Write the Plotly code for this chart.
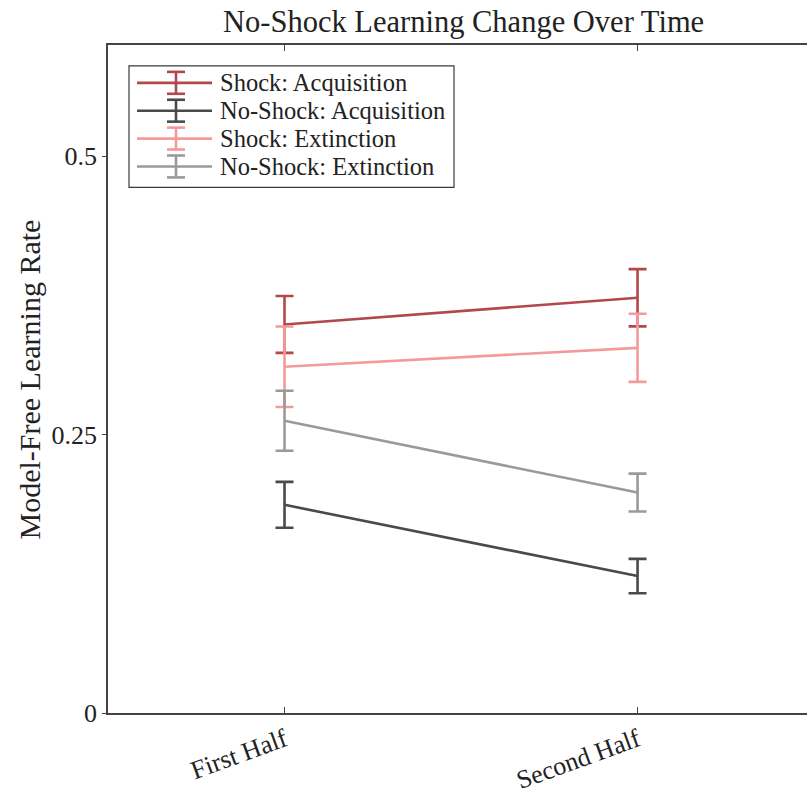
import plotly.graph_objects as go

# Halves of the session on the x axis
periods = ["First Half", "Second Half"]
period_pos = [1, 2]

# Mean model-free learning rates and standard errors per condition
series_names = ["Shock: Acquisition", "No-Shock: Acquisition",
                "Shock: Extinction", "No-Shock: Extinction"]
shock_acq = [0.349, 0.373]
shock_acq_err = [0.0255, 0.0257]
noshock_acq = [0.187, 0.123]
noshock_acq_err = [0.0206, 0.0154]
shock_ext = [0.311, 0.328]
shock_ext_err = [0.0362, 0.0306]
noshock_ext = [0.2625, 0.198]
noshock_ext_err = [0.027, 0.017]

y_ticks = [0, 0.25, 0.5]
y_tick_labels = ["0", "0.25", "0.5"]

colors = ["#b2474c", "#4a4a4a", "#f59a9a", "#9a9a9a"]
values = [shock_acq, noshock_acq, shock_ext, noshock_ext]
errors = [shock_acq_err, noshock_acq_err, shock_ext_err, noshock_ext_err]

FONT = "Liberation Serif"
TXT = "#222"
W, H = 807, 795
ML, MR, MT, MB = 108, 0, 45, 79

fig = go.Figure()
for name, vals, errs, col in zip(series_names, values, errors, colors):
    fig.add_trace(go.Scatter(
        x=period_pos, y=vals, name=name, mode="lines",
        line=dict(color=col, width=2.6),
        error_y=dict(type="data", array=errs, visible=True,
                     color=col, thickness=2.6, width=9),
        showlegend=False,
    ))

# Hand-built legend box in pixel space, converted to paper coordinates
pw, ph = W - ML - MR, H - MT - MB
def px(x):
    return (x - ML) / pw
def py(y):
    return 1 - (y - MT) / ph

shapes = [dict(type="rect", xref="paper", yref="paper",
               x0=px(129), x1=px(454), y0=py(188), y1=py(66),
               line=dict(color="#3a3a3a", width=1.2), fillcolor="white", layer="above")]
annotations = []
rows = [83, 111, 139, 167]
for name, col, yy in zip(series_names, colors, rows):
    shapes.append(dict(type="line", xref="paper", yref="paper",
                       x0=px(137), x1=px(212), y0=py(yy), y1=py(yy),
                       line=dict(color=col, width=2.6), layer="above"))
    shapes.append(dict(type="line", xref="paper", yref="paper",
                       x0=px(176), x1=px(176), y0=py(yy - 11), y1=py(yy + 11),
                       line=dict(color=col, width=2.6), layer="above"))
    for cy in (yy - 11, yy + 11):
        shapes.append(dict(type="line", xref="paper", yref="paper",
                           x0=px(167), x1=px(185), y0=py(cy), y1=py(cy),
                           line=dict(color=col, width=2.6), layer="above"))
    annotations.append(dict(text=name, xref="paper", yref="paper",
                            x=px(218), y=py(yy), xanchor="left", yanchor="middle",
                            showarrow=False, font=dict(family=FONT, size=24.5, color=TXT)))

annotations.append(dict(text="No-Shock Learning Change Over Time", xref="paper", yref="paper",
                        x=px(463), y=py(22), xanchor="center", yanchor="middle",
                        showarrow=False, font=dict(family=FONT, size=30.5, color=TXT)))
annotations.append(dict(text="Model-Free Learning Rate", xref="paper", yref="paper",
                        x=px(29), y=py(381), xanchor="center", yanchor="middle",
                        textangle=-90, showarrow=False,
                        font=dict(family=FONT, size=30, color=TXT)))

fig.update_layout(
    width=W, height=H,
    margin=dict(l=ML, r=MR, t=MT, b=MB),
    paper_bgcolor="white", plot_bgcolor="white",
    font=dict(family=FONT, size=26, color=TXT),
    shapes=shapes, annotations=annotations,
    xaxis=dict(range=[0.5, 2.48], tickvals=period_pos, ticktext=periods,
               tickangle=-20, ticks="inside", ticklen=6, tickwidth=1.2, tickcolor="#444",
               showline=True, linecolor="#444", linewidth=1.5, mirror="ticks",
               showgrid=False, zeroline=False, tickfont=dict(size=26)),
    yaxis=dict(range=[0, 0.6], tickvals=y_ticks, ticktext=y_tick_labels,
               ticks="outside", ticklen=4, tickwidth=1.2, tickcolor="#444",
               showline=True, linecolor="#444", linewidth=1.5, mirror=False,
               showgrid=False, zeroline=False, tickfont=dict(size=26)),
)

fig.write_html("out.html")
